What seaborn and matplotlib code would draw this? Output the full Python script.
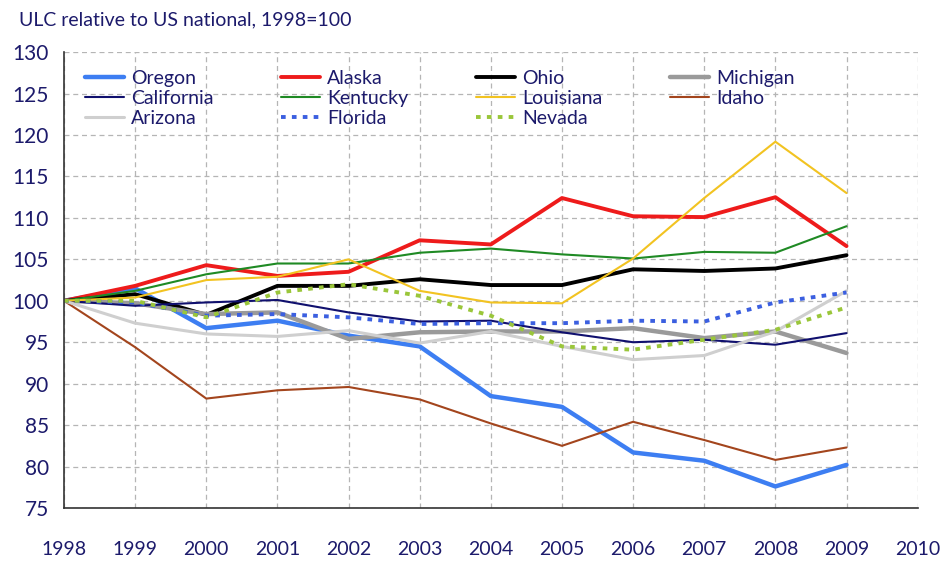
import numpy as np
import pandas as pd
import matplotlib
matplotlib.use("Agg")
import matplotlib.pyplot as plt
import seaborn as sns

years = list(range(1998, 2010))

oregon = [100, 101.5, 96.7, 97.6, 95.8, 94.5, 88.5, 87.2, 81.7, 80.7, 77.6, 80.2]
alaska = [100, 101.8, 104.3, 103.0, 103.5, 107.3, 106.8, 112.4, 110.2, 110.1, 112.5, 106.6]
ohio = [100, 100.8, 98.3, 101.8, 101.8, 102.6, 101.9, 101.9, 103.8, 103.6, 103.9, 105.5]
michigan = [100, 99.7, 98.4, 98.6, 95.4, 96.2, 96.3, 96.3, 96.7, 95.5, 96.3, 93.7]
california = [100, 99.4, 99.8, 100.1, 98.6, 97.5, 97.6, 96.2, 95.0, 95.3, 94.7, 96.1]
kentucky = [100, 101.2, 103.2, 104.5, 104.5, 105.8, 106.3, 105.6, 105.1, 105.9, 105.8, 109.0]
louisiana = [100, 100.4, 102.5, 102.9, 105.0, 101.2, 99.8, 99.7, 105.1, 112.4, 119.2, 113.0]
idaho = [100, 94.4, 88.2, 89.2, 89.6, 88.1, 85.2, 82.5, 85.4, 83.2, 80.8, 82.3]
arizona = [100, 97.3, 96.0, 95.7, 96.4, 94.9, 96.3, 94.5, 92.9, 93.4, 96.3, 101.2]
florida = [100, 99.8, 98.2, 98.4, 98.0, 97.2, 97.3, 97.3, 97.6, 97.5, 99.8, 101.0]
nevada = [100, 100.0, 98.0, 101.0, 102.0, 100.6, 98.2, 94.5, 94.1, 95.3, 96.5, 99.2]

# name, values, color, width, style
series = [
    ("Oregon", oregon, "#3d7ef2", 3.2, "-"),
    ("Alaska", alaska, "#ee1b1b", 2.8, "-"),
    ("Ohio", ohio, "#000000", 2.8, "-"),
    ("Michigan", michigan, "#9a9a9a", 3.2, "-"),
    ("California", california, "#10106e", 1.5, "-"),
    ("Kentucky", kentucky, "#1f8a24", 1.5, "-"),
    ("Louisiana", louisiana, "#f2c321", 1.5, "-"),
    ("Idaho", idaho, "#a3451d", 1.5, "-"),
    ("Arizona", arizona, "#cfcfcf", 2.2, "-"),
    ("Florida", florida, "#3b5fe0", 2.8, (0, (1.2, 1.6))),
    ("Nevada", nevada, "#9ac63a", 2.8, (0, (1.2, 1.6))),
]

sns.set_style("white")
plt.rcParams["font.family"] = ["Lato", "DejaVu Sans"]
txt = "#1c1a6b"

fig = plt.figure(figsize=(9.47, 5.61), dpi=100)
ax = fig.add_axes([0.0676, 0.0945, 0.9014, 0.8125])

handles = {}
for name, vals, col, lw, ls in series:
    sns.lineplot(x=years, y=vals, ax=ax, color=col, lw=lw, linestyle=ls, label=name)
    handles[name] = ax.get_lines()[-1]

ax.set_xlim(1998, 2010)
ax.set_ylim(75, 130)
ax.set_xticks(range(1998, 2011))
ax.set_yticks(range(75, 131, 5))
ax.grid(True, color="#b5b5b5", linestyle=(0, (4, 3)), lw=0.9)
for s in ["top", "right"]:
    ax.spines[s].set_visible(False)
for s in ["left", "bottom"]:
    ax.spines[s].set_color("#333333")
    ax.spines[s].set_linewidth(1.2)
ax.tick_params(axis="x", direction="in", length=7, pad=24, labelsize=14, labelcolor=txt, color="#333333")
ax.tick_params(axis="y", direction="out", length=5, pad=6, labelsize=15, labelcolor=txt, color="#333333")

order = ["Oregon", "California", "Arizona", "Alaska", "Kentucky", "Florida",
         "Ohio", "Louisiana", "Nevada", "Michigan", "Idaho"]
leg = ax.legend([handles[n] for n in order], order, ncol=4, loc="upper left",
                bbox_to_anchor=(0.004, 0.999), frameon=False, fontsize=14,
                labelspacing=0.15, handlelength=2.0, handletextpad=0.35,
                columnspacing=3.5)
for t in leg.get_texts():
    t.set_color(txt)

fig.text(0.02, 0.965, "ULC relative to US national, 1998=100", fontsize=14, color=txt, va="center")

fig.savefig("out.png", dpi=100)
